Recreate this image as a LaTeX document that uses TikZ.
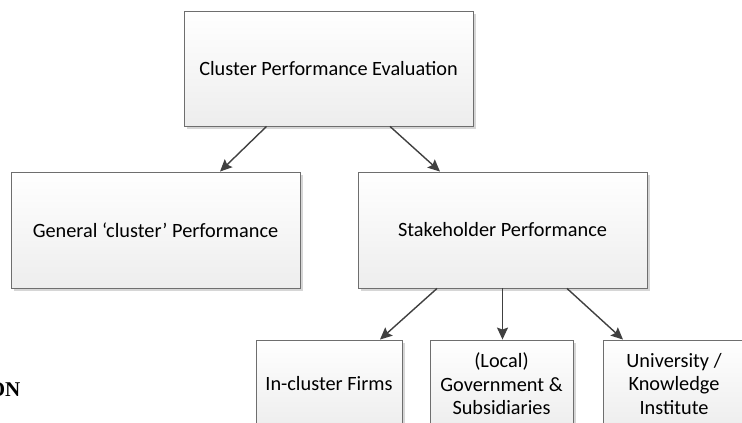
\documentclass[tikz,border=0pt]{standalone}
\usepackage{fontspec}
\setmainfont{Carlito}
\newfontfamily\headserif{Liberation Serif}
\usetikzlibrary{arrows.meta,shadows}
\definecolor{boxline}{HTML}{6E6E6E}
\definecolor{arrowgray}{HTML}{404040}
\tikzset{
    chartbox/.style={draw=boxline, line width=0.9pt, top color=white, bottom color=gray!14,
        drop shadow={shadow xshift=2.5pt, shadow yshift=-2.5pt, fill=black, opacity=0.16},
        align=center, inner sep=0pt, font=\fontsize{20.3}{23.5}\selectfont},
    bigbox/.style={chartbox, minimum width=289pt, minimum height=116pt},
    leafbox/.style={chartbox, minimum height=88pt},
    link/.style={draw=arrowgray, line width=1.4pt, -{Stealth[length=12pt,width=11pt,inset=2pt]}}
}
\begin{document}
\begin{tikzpicture}[x=1pt,y=-1pt]
        \useasboundingbox (0,0) rectangle (742,423);
        \clip (0,0) rectangle (742,423);
        \node[bigbox, minimum height=115pt] (eval)    at (328.5,68.5) {Cluster Performance Evaluation};
        \node[bigbox]                       (general) at (155.5,230)  {General `cluster' Performance};
        \node[bigbox]                       (stake)   at (502.5,230)  {Stakeholder Performance};
        \node[leafbox, minimum width=146pt] (firms)   at (329,384)    {In-cluster Firms};
        \node[leafbox, minimum width=143pt] (gov)     at (501.5,384)  {(Local)\\Government \&\\Subsidiaries};
        \node[leafbox, minimum width=142pt] (univ)    at (674,384)    {University /\\Knowledge\\Institute};
        \node[anchor=base east, inner sep=0pt, font=\headserif\bfseries\fontsize{21}{21}\selectfont] (cut) at (20.5,396) {ON};
        \draw[link] ([xshift=-62pt]eval.south)  -- ([xshift=64.5pt]general.north);
        \draw[link] ([xshift=61.5pt]eval.south) -- ([xshift=-62.5pt]stake.north);
        \draw[link] ([xshift=-65.5pt]stake.south) -- ([xshift=51pt]firms.north);
        \draw[link] (stake.south) -- ([xshift=1pt]gov.north);
        \draw[link] ([xshift=64.5pt]stake.south) -- ([xshift=-51pt]univ.north);
    \end{tikzpicture}
\end{document}
